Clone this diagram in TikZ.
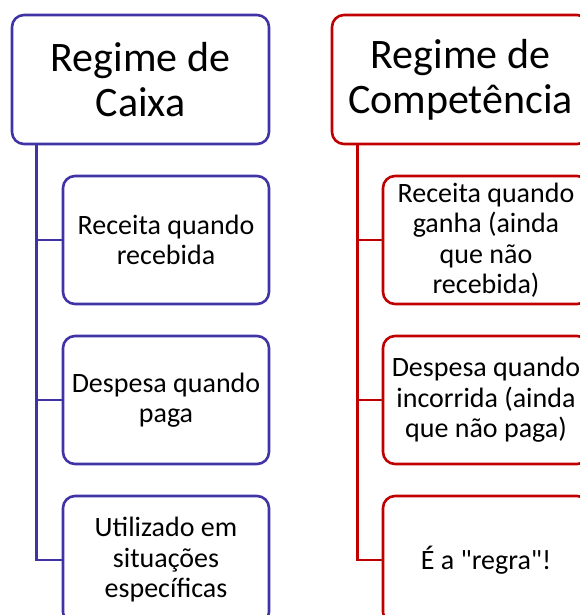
\documentclass[tikz,border=0pt]{standalone}
\usepackage{fontspec}
\setmainfont{Carlito}[Ligatures=TeXOff]
\definecolor{purp}{HTML}{3F33A6}
\definecolor{redc}{HTML}{C00000}
\begin{document}
\begin{tikzpicture}[x=1pt,y=-1pt,
  box/.style={draw, line width=2.6pt, rounded corners=12pt, fill=white, align=center, inner sep=0pt},
  head/.style={box, minimum width=257pt, minimum height=129pt, font=\fontsize{42}{45}\selectfont},
  child/.style={box, minimum width=206pt, minimum height=128pt, font=\fontsize{28}{30.5}\selectfont},
  conn/.style={line width=2.6pt}]
\useasboundingbox (0,0) rectangle (580,615);
\clip (0,0) rectangle (580,615);
% left column
\begin{scope}[color=purp]
\node[head, text=black] (hL) at (140.5,79.5) {Regime de\\Caixa};
\node[child, text=black] (c1L) at (166,240) {Receita quando\\recebida};
\node[child, text=black] (c2L) at (166,400) {Despesa quando\\paga};
\node[child, text=black] (c3L) at (166,560) {Utilizado em\\situações\\específicas};
\draw[conn] (hL.south west) ++(26,0) |- (c3L.west);
\draw[conn] (c1L.west) -- ++(-25,0);
\draw[conn] (c2L.west) -- ++(-25,0);
\end{scope}
% right column
\begin{scope}[color=redc]
\node[head, text=black] (hR) at (460.5,79.5) {Regime de\\Competência};
\node[child, text=black] (c1R) at (486,240) {Receita quando\\ganha (ainda\\que não\\recebida)};
\node[child, text=black] (c2R) at (486,400) {Despesa quando\\incorrida (ainda\\que não paga)};
\node[child, text=black] (c3R) at (486,560) {É a "regra"!};
\draw[conn] (hR.south west) ++(27,0) |- (c3R.west);
\draw[conn] (c1R.west) -- ++(-24,0);
\draw[conn] (c2R.west) -- ++(-24,0);
\end{scope}
\end{tikzpicture}
\end{document}
